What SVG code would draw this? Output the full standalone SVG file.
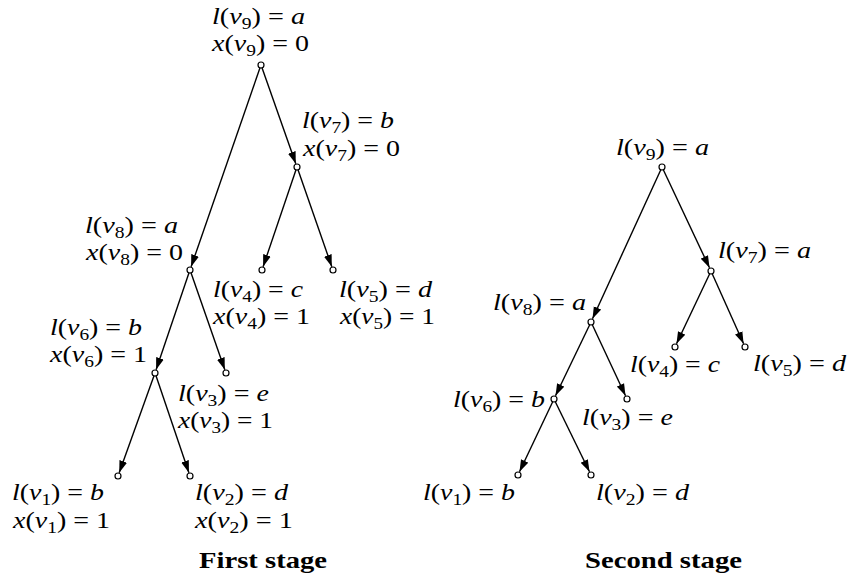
<svg xmlns="http://www.w3.org/2000/svg" width="851" height="580" viewBox="0 0 851 580">
<defs>
<style>
.m{font-family:"Liberation Serif","Times New Roman",serif;font-size:23px;fill:#000}
.i{font-style:italic}
.s{font-size:16px}
.t{font-family:"Liberation Serif","Times New Roman",serif;font-size:23px;font-weight:bold;fill:#000}
.n{fill:#fff;stroke:#000;stroke-width:1.2}
.e{stroke:#000;stroke-width:1.4;fill:none;marker-end:url(#ah)}
</style>
<marker id="ah" markerUnits="userSpaceOnUse" markerWidth="13" markerHeight="9" refX="12" refY="4.5" orient="auto"><path d="M0,0.5 L12,4.5 L0,8.5 z" fill="#000"/></marker>
</defs>
<rect width="851" height="580" fill="#fff"/>
<g id="connectors">
<line class="e" x1="260.0" y1="67.8" x2="191.1" y2="266.7"/>
<line class="e" x1="262.0" y1="67.8" x2="295.8" y2="163.7"/>
<line class="e" x1="296.0" y1="169.8" x2="263.1" y2="266.7"/>
<line class="e" x1="298.0" y1="169.8" x2="331.8" y2="266.7"/>
<line class="e" x1="189.0" y1="272.8" x2="156.1" y2="369.7"/>
<line class="e" x1="191.0" y1="272.8" x2="224.8" y2="369.7"/>
<line class="e" x1="154.0" y1="375.8" x2="119.2" y2="472.7"/>
<line class="e" x1="156.0" y1="375.8" x2="188.9" y2="472.7"/>
<line class="e" x1="660.8" y1="169.7" x2="592.5" y2="318.8"/>
<line class="e" x1="663.3" y1="169.7" x2="709.5" y2="267.8"/>
<line class="e" x1="709.7" y1="273.7" x2="676.5" y2="343.8"/>
<line class="e" x1="712.2" y1="273.7" x2="743.6" y2="343.8"/>
<line class="e" x1="589.7" y1="324.7" x2="555.5" y2="395.8"/>
<line class="e" x1="592.3" y1="324.7" x2="625.5" y2="395.8"/>
<line class="e" x1="552.7" y1="401.7" x2="519.5" y2="471.8"/>
<line class="e" x1="555.3" y1="401.7" x2="589.5" y2="471.8"/>
</g>
<g id="s1-v9"><circle class="n" cx="261" cy="65" r="3"/>
<text class="m" x="212" y="24" textLength="93" lengthAdjust="spacingAndGlyphs"><tspan class="i">l</tspan>(<tspan class="i">v</tspan><tspan class="s" dy="5">9</tspan><tspan dy="-5">) = </tspan><tspan class="i">a</tspan></text>
<text class="m" x="212" y="51" textLength="97" lengthAdjust="spacingAndGlyphs"><tspan class="i">x</tspan>(<tspan class="i">v</tspan><tspan class="s" dy="5">9</tspan><tspan dy="-5">) = 0</tspan></text></g>
<g id="s1-v7"><circle class="n" cx="297" cy="167" r="3"/>
<text class="m" x="302" y="128" textLength="92" lengthAdjust="spacingAndGlyphs"><tspan class="i">l</tspan>(<tspan class="i">v</tspan><tspan class="s" dy="5">7</tspan><tspan dy="-5">) = </tspan><tspan class="i">b</tspan></text>
<text class="m" x="303" y="156" textLength="97" lengthAdjust="spacingAndGlyphs"><tspan class="i">x</tspan>(<tspan class="i">v</tspan><tspan class="s" dy="5">7</tspan><tspan dy="-5">) = 0</tspan></text></g>
<g id="s1-v8"><circle class="n" cx="190" cy="270" r="3"/>
<text class="m" x="85" y="233" textLength="93" lengthAdjust="spacingAndGlyphs"><tspan class="i">l</tspan>(<tspan class="i">v</tspan><tspan class="s" dy="5">8</tspan><tspan dy="-5">) = </tspan><tspan class="i">a</tspan></text>
<text class="m" x="86" y="260" textLength="97" lengthAdjust="spacingAndGlyphs"><tspan class="i">x</tspan>(<tspan class="i">v</tspan><tspan class="s" dy="5">8</tspan><tspan dy="-5">) = 0</tspan></text></g>
<g id="s1-v4"><circle class="n" cx="262" cy="270" r="3"/>
<text class="m" x="213" y="297" textLength="90" lengthAdjust="spacingAndGlyphs"><tspan class="i">l</tspan>(<tspan class="i">v</tspan><tspan class="s" dy="5">4</tspan><tspan dy="-5">) = </tspan><tspan class="i">c</tspan></text>
<text class="m" x="213" y="324" textLength="97" lengthAdjust="spacingAndGlyphs"><tspan class="i">x</tspan>(<tspan class="i">v</tspan><tspan class="s" dy="5">4</tspan><tspan dy="-5">) = 1</tspan></text></g>
<g id="s1-v5"><circle class="n" cx="333" cy="270" r="3"/>
<text class="m" x="339" y="297" textLength="93" lengthAdjust="spacingAndGlyphs"><tspan class="i">l</tspan>(<tspan class="i">v</tspan><tspan class="s" dy="5">5</tspan><tspan dy="-5">) = </tspan><tspan class="i">d</tspan></text>
<text class="m" x="340" y="324" textLength="95" lengthAdjust="spacingAndGlyphs"><tspan class="i">x</tspan>(<tspan class="i">v</tspan><tspan class="s" dy="5">5</tspan><tspan dy="-5">) = 1</tspan></text></g>
<g id="s1-v6"><circle class="n" cx="155" cy="373" r="3"/>
<text class="m" x="50" y="335" textLength="92" lengthAdjust="spacingAndGlyphs"><tspan class="i">l</tspan>(<tspan class="i">v</tspan><tspan class="s" dy="5">6</tspan><tspan dy="-5">) = </tspan><tspan class="i">b</tspan></text>
<text class="m" x="50" y="362" textLength="97" lengthAdjust="spacingAndGlyphs"><tspan class="i">x</tspan>(<tspan class="i">v</tspan><tspan class="s" dy="5">6</tspan><tspan dy="-5">) = 1</tspan></text></g>
<g id="s1-v3"><circle class="n" cx="226" cy="373" r="3"/>
<text class="m" x="178" y="401" textLength="91" lengthAdjust="spacingAndGlyphs"><tspan class="i">l</tspan>(<tspan class="i">v</tspan><tspan class="s" dy="5">3</tspan><tspan dy="-5">) = </tspan><tspan class="i">e</tspan></text>
<text class="m" x="178" y="428" textLength="95" lengthAdjust="spacingAndGlyphs"><tspan class="i">x</tspan>(<tspan class="i">v</tspan><tspan class="s" dy="5">3</tspan><tspan dy="-5">) = 1</tspan></text></g>
<g id="s1-v1"><circle class="n" cx="118" cy="476" r="3"/>
<text class="m" x="12" y="500" textLength="92" lengthAdjust="spacingAndGlyphs"><tspan class="i">l</tspan>(<tspan class="i">v</tspan><tspan class="s" dy="5">1</tspan><tspan dy="-5">) = </tspan><tspan class="i">b</tspan></text>
<text class="m" x="13" y="528" textLength="97" lengthAdjust="spacingAndGlyphs"><tspan class="i">x</tspan>(<tspan class="i">v</tspan><tspan class="s" dy="5">1</tspan><tspan dy="-5">) = 1</tspan></text></g>
<g id="s1-v2"><circle class="n" cx="190" cy="476" r="3"/>
<text class="m" x="195" y="500" textLength="93" lengthAdjust="spacingAndGlyphs"><tspan class="i">l</tspan>(<tspan class="i">v</tspan><tspan class="s" dy="5">2</tspan><tspan dy="-5">) = </tspan><tspan class="i">d</tspan></text>
<text class="m" x="195" y="528" textLength="98" lengthAdjust="spacingAndGlyphs"><tspan class="i">x</tspan>(<tspan class="i">v</tspan><tspan class="s" dy="5">2</tspan><tspan dy="-5">) = 1</tspan></text></g>
<g id="title1"><text class="t" x="199" y="568" textLength="128" lengthAdjust="spacingAndGlyphs">First stage</text></g>
<g id="s2-v9"><circle class="n" cx="662" cy="167" r="3"/>
<text class="m" x="616" y="155" textLength="93" lengthAdjust="spacingAndGlyphs"><tspan class="i">l</tspan>(<tspan class="i">v</tspan><tspan class="s" dy="5">9</tspan><tspan dy="-5">) = </tspan><tspan class="i">a</tspan></text></g>
<g id="s2-v7"><circle class="n" cx="711" cy="271" r="3"/>
<text class="m" x="718" y="258" textLength="93" lengthAdjust="spacingAndGlyphs"><tspan class="i">l</tspan>(<tspan class="i">v</tspan><tspan class="s" dy="5">7</tspan><tspan dy="-5">) = </tspan><tspan class="i">a</tspan></text></g>
<g id="s2-v8"><circle class="n" cx="591" cy="322" r="3"/>
<text class="m" x="493" y="310" textLength="93" lengthAdjust="spacingAndGlyphs"><tspan class="i">l</tspan>(<tspan class="i">v</tspan><tspan class="s" dy="5">8</tspan><tspan dy="-5">) = </tspan><tspan class="i">a</tspan></text></g>
<g id="s2-v4"><circle class="n" cx="675" cy="347" r="3"/>
<text class="m" x="630" y="372" textLength="90" lengthAdjust="spacingAndGlyphs"><tspan class="i">l</tspan>(<tspan class="i">v</tspan><tspan class="s" dy="5">4</tspan><tspan dy="-5">) = </tspan><tspan class="i">c</tspan></text></g>
<g id="s2-v5"><circle class="n" cx="745" cy="347" r="3"/>
<text class="m" x="753" y="371" textLength="93" lengthAdjust="spacingAndGlyphs"><tspan class="i">l</tspan>(<tspan class="i">v</tspan><tspan class="s" dy="5">5</tspan><tspan dy="-5">) = </tspan><tspan class="i">d</tspan></text></g>
<g id="s2-v6"><circle class="n" cx="554" cy="399" r="3"/>
<text class="m" x="453" y="407" textLength="92" lengthAdjust="spacingAndGlyphs"><tspan class="i">l</tspan>(<tspan class="i">v</tspan><tspan class="s" dy="5">6</tspan><tspan dy="-5">) = </tspan><tspan class="i">b</tspan></text></g>
<g id="s2-v3"><circle class="n" cx="627" cy="399" r="3"/>
<text class="m" x="582" y="425" textLength="91" lengthAdjust="spacingAndGlyphs"><tspan class="i">l</tspan>(<tspan class="i">v</tspan><tspan class="s" dy="5">3</tspan><tspan dy="-5">) = </tspan><tspan class="i">e</tspan></text></g>
<g id="s2-v1"><circle class="n" cx="518" cy="475" r="3"/>
<text class="m" x="423" y="500" textLength="92" lengthAdjust="spacingAndGlyphs"><tspan class="i">l</tspan>(<tspan class="i">v</tspan><tspan class="s" dy="5">1</tspan><tspan dy="-5">) = </tspan><tspan class="i">b</tspan></text></g>
<g id="s2-v2"><circle class="n" cx="591" cy="475" r="3"/>
<text class="m" x="596" y="500" textLength="93" lengthAdjust="spacingAndGlyphs"><tspan class="i">l</tspan>(<tspan class="i">v</tspan><tspan class="s" dy="5">2</tspan><tspan dy="-5">) = </tspan><tspan class="i">d</tspan></text></g>
<g id="title2"><text class="t" x="585" y="568" textLength="157" lengthAdjust="spacingAndGlyphs">Second stage</text></g>
</svg>
